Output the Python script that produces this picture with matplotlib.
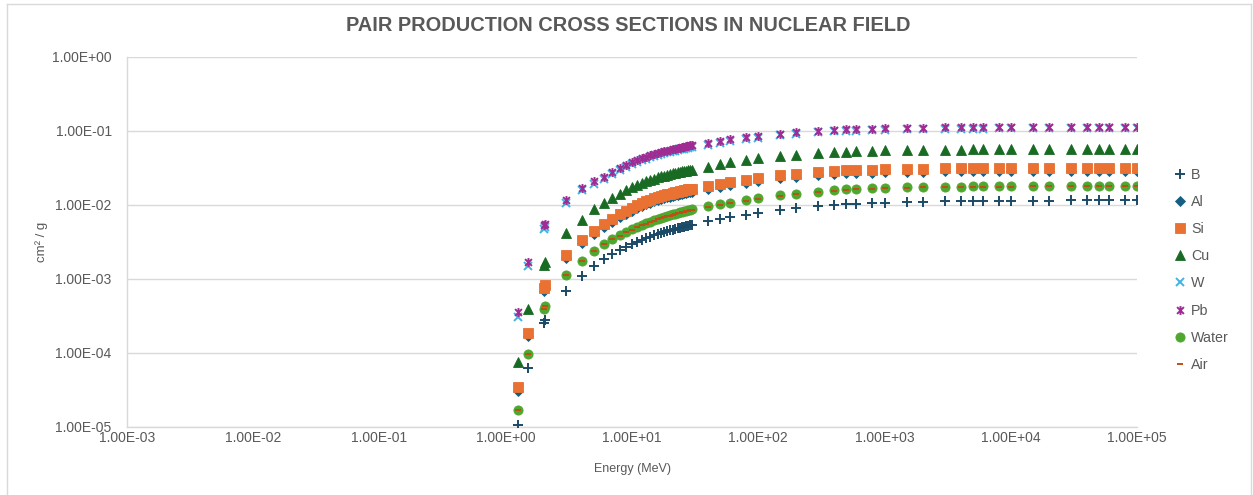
import matplotlib.pyplot as plt
from matplotlib.lines import Line2D
from matplotlib.path import Path
from matplotlib.ticker import FixedLocator, FuncFormatter

# photon energies (MeV)
energy = [1.25, 1.5, 2, 2.044, 3, 4, 5,
          6, 7, 8, 9, 10, 11, 12, 13, 14, 15, 16, 17, 18, 19, 20,
          21, 22, 23, 24, 25, 26, 27, 28, 29, 30,
          40, 50, 60, 80, 100, 150, 200, 300, 400, 500, 600, 800, 1000,
          1500, 2000, 3000, 4000, 5000, 6000, 8000, 10000,
          15000, 20000, 30000, 40000, 50000, 60000, 80000, 100000]

# pair production (nuclear field), cm2/g
B = [1.06e-5, 6.3e-5, 2.54e-4, 2.75e-4, 6.95e-4, 1.11e-3, 1.50e-3,
     0.00186, 0.00217, 0.00245, 0.00271, 0.00295, 0.00317, 0.00337, 0.00356, 0.00373,
     0.00389, 0.00404, 0.00418, 0.00431, 0.00443, 0.00455, 0.00466, 0.00476, 0.00486,
     0.00495, 0.00504, 0.00512, 0.00520, 0.00528, 0.00535, 0.00542,
     0.00605, 0.00650, 0.00685, 0.00735, 0.00780, 0.00860, 0.00910, 0.00970, 0.01005,
     0.01025, 0.01040, 0.01060, 0.01075, 0.01095, 0.01105, 0.01120, 0.01125, 0.01130,
     0.01135, 0.01140, 0.01142, 0.01147, 0.01150, 0.01155, 0.01157, 0.01159, 0.01160,
     0.01162, 0.01163]
Al = [3.1e-5, 1.68e-4, 6.9e-4, 7.5e-4, 1.92e-3, 3.06e-3, 4.05e-3,
      0.0050, 0.0059, 0.0068, 0.0076, 0.0084, 0.0090, 0.0096, 0.0102, 0.0107,
      0.0112, 0.0116, 0.0120, 0.0124, 0.0127, 0.0130, 0.0133, 0.0136, 0.0138,
      0.0141, 0.0143, 0.0145, 0.0147, 0.0148, 0.0150, 0.0152,
      0.0165, 0.0177, 0.0185, 0.0199, 0.0211, 0.0230, 0.0240, 0.0254, 0.0262,
      0.0267, 0.0270, 0.0274, 0.0277, 0.0281, 0.0283, 0.0284, 0.0285, 0.0286,
      0.0286, 0.0287, 0.0287, 0.0288, 0.0288, 0.0288, 0.0288, 0.0289, 0.0289,
      0.0289, 0.0289]
Si = [3.5e-5, 1.86e-4, 7.6e-4, 8.3e-4, 2.11e-3, 3.37e-3, 4.45e-3,
      0.0055, 0.0065, 0.0075, 0.0084, 0.0092, 0.0099, 0.0106, 0.0112, 0.0118,
      0.0123, 0.0128, 0.0132, 0.0136, 0.0140, 0.0143, 0.0146, 0.0149, 0.0152,
      0.0155, 0.0157, 0.0159, 0.0161, 0.0163, 0.0165, 0.0167,
      0.0181, 0.0194, 0.0203, 0.0218, 0.0232, 0.0252, 0.0263, 0.0279, 0.0288,
      0.0293, 0.0296, 0.0301, 0.0304, 0.0308, 0.0310, 0.0312, 0.0313, 0.0314,
      0.0314, 0.0315, 0.0315, 0.0316, 0.0316, 0.0316, 0.0316, 0.0317, 0.0317,
      0.0317, 0.0317]
Cu = [7.6e-5, 3.9e-4, 1.55e-3, 1.68e-3, 4.2e-3, 6.3e-3, 8.7e-3,
      0.0107, 0.0125, 0.0142, 0.0159, 0.0175, 0.0187, 0.0199, 0.0209, 0.0219,
      0.0228, 0.0236, 0.0243, 0.0250, 0.0256, 0.0262, 0.0267, 0.0272, 0.0276,
      0.0280, 0.0284, 0.0288, 0.0291, 0.0294, 0.0297, 0.0300,
      0.0330, 0.0356, 0.0376, 0.0405, 0.0427, 0.0460, 0.0477, 0.0505, 0.0520,
      0.0528, 0.0534, 0.0541, 0.0546, 0.0553, 0.0556, 0.0560, 0.0562, 0.0563,
      0.0564, 0.0565, 0.0566, 0.0567, 0.0567, 0.0568, 0.0568, 0.0568, 0.0569,
      0.0569, 0.0569]
W = [3.06e-4, 1.50e-3, 4.7e-3, 5.0e-3, 1.06e-2, 1.58e-2, 1.93e-2,
     0.0224, 0.0262, 0.0296, 0.0328, 0.0357, 0.0381, 0.0403, 0.0423, 0.0441,
     0.0458, 0.0473, 0.0487, 0.0501, 0.0513, 0.0524, 0.0535, 0.0545, 0.0554,
     0.0563, 0.0572, 0.0580, 0.0587, 0.0595, 0.0601, 0.0608,
     0.0655, 0.0698, 0.0730, 0.0778, 0.0815, 0.0878, 0.0918, 0.0962, 0.0986,
     0.1001, 0.1011, 0.1026, 0.1036, 0.1051, 0.1059, 0.1068, 0.1072, 0.1076,
     0.1078, 0.1081, 0.1083, 0.1086, 0.1088, 0.1090, 0.1091, 0.1092, 0.1092,
     0.1093, 0.1093]
Pb = [3.6e-4, 1.68e-3, 5.3e-3, 5.6e-3, 1.17e-2, 1.72e-2, 2.10e-2,
      0.0241, 0.0280, 0.0316, 0.0350, 0.0381, 0.0406, 0.0429, 0.0450, 0.0469,
      0.0487, 0.0503, 0.0518, 0.0532, 0.0545, 0.0557, 0.0568, 0.0579, 0.0589,
      0.0598, 0.0607, 0.0615, 0.0623, 0.0631, 0.0638, 0.0645,
      0.0695, 0.0740, 0.0772, 0.0822, 0.0860, 0.0925, 0.0965, 0.1010, 0.1035,
      0.1050, 0.1060, 0.1075, 0.1085, 0.1100, 0.1108, 0.1118, 0.1122, 0.1126,
      0.1128, 0.1131, 0.1133, 0.1136, 0.1138, 0.1140, 0.1141, 0.1142, 0.1142,
      0.1143, 0.1143]
Water = [1.7e-5, 9.7e-5, 3.95e-4, 4.3e-4, 1.13e-3, 1.75e-3, 2.39e-3,
         0.00297, 0.00346, 0.00391, 0.00432, 0.00470, 0.00505, 0.00537, 0.00567, 0.00595,
         0.00621, 0.00645, 0.00668, 0.00689, 0.00709, 0.00728, 0.00746, 0.00763, 0.00779,
         0.00794, 0.00808, 0.00822, 0.00835, 0.00847, 0.00859, 0.00870,
         0.0096, 0.0102, 0.0107, 0.0116, 0.0123, 0.0135, 0.0142, 0.0152, 0.0158,
         0.0162, 0.0164, 0.0168, 0.0170, 0.0173, 0.0175, 0.0176, 0.0177, 0.0178,
         0.0178, 0.0179, 0.0179, 0.0180, 0.0180, 0.0180, 0.0181, 0.0181, 0.0181,
         0.0181, 0.0181]
Air = [1.68e-5, 9.6e-5, 3.9e-4, 4.25e-4, 1.12e-3, 1.73e-3, 2.37e-3,
       0.00294, 0.00343, 0.00387, 0.00428, 0.00466, 0.00500, 0.00532, 0.00562, 0.00589,
       0.00615, 0.00639, 0.00662, 0.00683, 0.00702, 0.00721, 0.00739, 0.00756, 0.00772,
       0.00787, 0.00801, 0.00814, 0.00827, 0.00839, 0.00851, 0.00862,
       0.0095, 0.0101, 0.0106, 0.0115, 0.0122, 0.0134, 0.0141, 0.0151, 0.0157,
       0.0160, 0.0163, 0.0166, 0.0168, 0.0171, 0.0173, 0.0174, 0.0175, 0.0176,
       0.0176, 0.0177, 0.0177, 0.0178, 0.0178, 0.0178, 0.0179, 0.0179, 0.0179,
       0.0179, 0.0179]

x_ticks = [1e-3, 1e-2, 1e-1, 1e0, 1e1, 1e2, 1e3, 1e4, 1e5]
y_ticks = [1e-5, 1e-4, 1e-3, 1e-2, 1e-1, 1e0]

# Excel "star" marker: an x with a vertical bar
star = Path([(-1, -1), (1, 1), (-1, 1), (1, -1), (0, -1.3), (0, 1.3)],
            [Path.MOVETO, Path.LINETO, Path.MOVETO, Path.LINETO, Path.MOVETO, Path.LINETO])

series = [
    ("B", B, '+', '#1b4a66', 7.0),
    ("Al", Al, 'D', '#156082', 5.0),
    ("Si", Si, 's', '#E97132', 6.8),
    ("Cu", Cu, '^', '#196B24', 7.0),
    ("W", W, 'x', '#3fb3e6', 6.0),
    ("Pb", Pb, star, '#A02B93', 6.4),
    ("Water", Water, 'o', '#4EA72E', 6.6),
    ("Air", Air, '_', '#C04F15', 4.0),
]

grey = '#595959'
plt.rcParams['font.family'] = ['Liberation Sans', 'DejaVu Sans']

fig = plt.figure(figsize=(12.53, 4.95), dpi=100)
ax = fig.add_axes([127 / 1253, 1 - 427 / 495, 1010 / 1253, 370 / 495])

handles = []
for name, vals, mk, col, ms in series:
    mew = 1.4 if (mk is star or mk in ('+', 'x', '_')) else 0.6
    ax.plot(energy, vals, linestyle='none', marker=mk, markersize=ms,
            color=col, markerfacecolor=col, markeredgecolor=col,
            markeredgewidth=mew, zorder=3)
    handles.append(Line2D([], [], linestyle='none', marker=mk, markersize=ms,
                          color=col, markerfacecolor=col, markeredgecolor=col,
                          markeredgewidth=mew, label=name))

ax.set_xscale('log')
ax.set_yscale('log')
ax.set_xlim(1e-3, 1e5)
ax.set_ylim(1e-5, 1e0)
ax.xaxis.set_major_locator(FixedLocator(x_ticks))
ax.yaxis.set_major_locator(FixedLocator(y_ticks))
ax.xaxis.set_minor_locator(FixedLocator([]))
ax.yaxis.set_minor_locator(FixedLocator([]))
fmt = FuncFormatter(lambda v, pos: f"{v:.2E}")
ax.xaxis.set_major_formatter(fmt)
ax.yaxis.set_major_formatter(fmt)
ax.tick_params(length=0, labelsize=10, labelcolor=grey)
ax.tick_params(axis='x', pad=3)
ax.tick_params(axis='y', pad=11)

ax.grid(axis='y', color='#d9d9d9', linewidth=1.0)
ax.set_axisbelow(True)
for s in ['top', 'right']:
    ax.spines[s].set_visible(False)
for s in ['left', 'bottom']:
    ax.spines[s].set_color('#d9d9d9')
    ax.spines[s].set_linewidth(1.0)

ax.set_xlabel("Energy (MeV)", fontsize=9, color=grey, labelpad=13)
ax.set_ylabel("cm² / g", fontsize=9.5, color=grey, labelpad=3)

fig.text(0.501, 0.948, "PAIR PRODUCTION CROSS SECTIONS IN NUCLEAR FIELD",
         ha='center', va='center', fontsize=14.4, fontweight='bold', color=grey)

fig.legend(handles=handles, loc='upper left', bbox_to_anchor=(1167 / 1253, 1 - 162 / 495),
           frameon=False, fontsize=10.3, labelcolor=grey, handlelength=1.0,
           handletextpad=0.3, labelspacing=0.92, borderaxespad=0)

# chart area border
fig.add_artist(Line2D([7 / 1253, 7 / 1253], [0, 1 - 4 / 495], transform=fig.transFigure,
                      color='#d9d9d9', linewidth=1.0))
fig.add_artist(Line2D([7 / 1253, 1251 / 1253], [1 - 4 / 495, 1 - 4 / 495],
                      transform=fig.transFigure, color='#d9d9d9', linewidth=1.0))
fig.add_artist(Line2D([1251 / 1253, 1251 / 1253], [0, 1 - 4 / 495], transform=fig.transFigure,
                      color='#d9d9d9', linewidth=1.0))

fig.savefig("out.png", dpi=100)
